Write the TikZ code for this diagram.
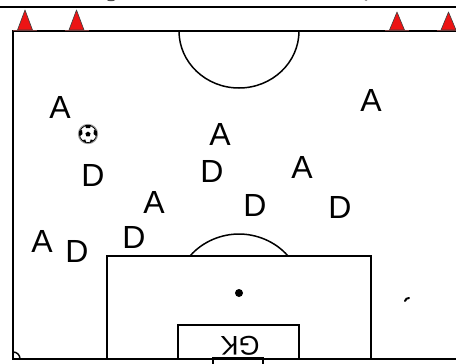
\documentclass[tikz,border=0pt]{standalone}
\usepackage{fontspec}
\setmainfont{Liberation Sans}
\usetikzlibrary{calc}
\definecolor{conered}{RGB}{236,20,20}
\definecolor{conebase}{RGB}{120,60,60}
\tikzset{
  x=1pt,y=-1pt,
  player/.style={font=\fontsize{32}{34}\selectfont,inner sep=0pt,text=black},
  pitchline/.style={draw=black,line width=1.5pt},
  cone/.style={fill=conered,draw=black!75,line width=.6pt,line join=round}
}
\begin{document}
\begin{tikzpicture}
\useasboundingbox (0,0) rectangle (456,364);
\fill[white] (0,0) rectangle (456,364);
% top band
\draw[line width=2pt] (0,7) -- (456,7);
\fill[black!70] (111,0) ellipse (4 and 1.2);
\fill[black!50] (366,0) ellipse (1.5 and 1);
% pitch
\draw[pitchline] (456,31) -- (13,31) -- (13,359) -- (456,359);
\draw[pitchline] (179,31) arc[start angle=180,end angle=360,x radius=60,y radius=-57];
\draw[pitchline] (107,358) -- (107,256) -- (371,256) -- (371,358);
\draw[pitchline] (190,256) .. controls (203,241) and (222,234) .. (239,234) .. controls (256,234) and (275,241) .. (288,256);
\draw[pitchline] (178,358) -- (178,325) -- (299,325) -- (299,358);
\draw[pitchline] (213,364) -- (213,358) -- (263,358) -- (263,364);
\fill (239,293) circle (4);
\draw[pitchline] (13,352) .. controls (17,352) and (20,355) .. (20,359);
\draw[line width=2pt,line cap=round] (405,301) .. controls (405.5,299) and (407,298) .. (409,298);
% cones
\foreach \cx/\cy in {25/10,76.5/10,397/12,448.5/12}{
  \draw[draw=conebase,line width=1pt] (\cx-12,30) -- (\cx+12,30);
  \draw[cone] (\cx-7.5,30) -- (\cx,\cy) -- (\cx+7.5,30) -- cycle;
}
% ball
\begin{scope}[shift={(88,134)}]
\fill[white] (0,0) circle (9);
\draw[black!40,line width=1pt] (0,0) circle (9.6);
\draw[black,line width=.8pt] (0,0) circle (8.6);
\fill[black] (0,-2.5) -- (2.6,-.6) -- (1.6,2.4) -- (-1.6,2.4) -- (-2.6,-.6) -- cycle;
\fill[black] (-3,-9) -- (3,-9) -- (2,-6) -- (-2,-6) -- cycle;
\fill[black] (-9,-3) -- (-6,-4) -- (-5.5,0) -- (-8,2) -- cycle;
\fill[black] (9,-3) -- (6,-4) -- (5.5,0) -- (8,2) -- cycle;
\fill[black] (-5.5,6) -- (-2.5,5.5) -- (-2,9) -- cycle;
\fill[black] (5.5,6) -- (2.5,5.5) -- (2,9) -- cycle;
\end{scope}
% players
\node[player] (a1) at (60,107) {A};
\node[player] (a2) at (371,100) {A};
\node[player] (a3) at (220,134) {A};
\node[player] (a4) at (302,167) {A};
\node[player] (a5) at (154,202) {A};
\node[player] (a6) at (42,241) {A};
\node[player] (d1) at (93,175) {D};
\node[player] (d2) at (212,171) {D};
\node[player] (d3) at (255,205) {D};
\node[player] (d4) at (340,207) {D};
\node[player] (d5) at (134,237) {D};
\node[player] (d6) at (77,251) {D};
\node[player,rotate=180,font=\fontsize{27}{29}\selectfont] (gk) at (240,346) {GK};
\end{tikzpicture}
\end{document}
